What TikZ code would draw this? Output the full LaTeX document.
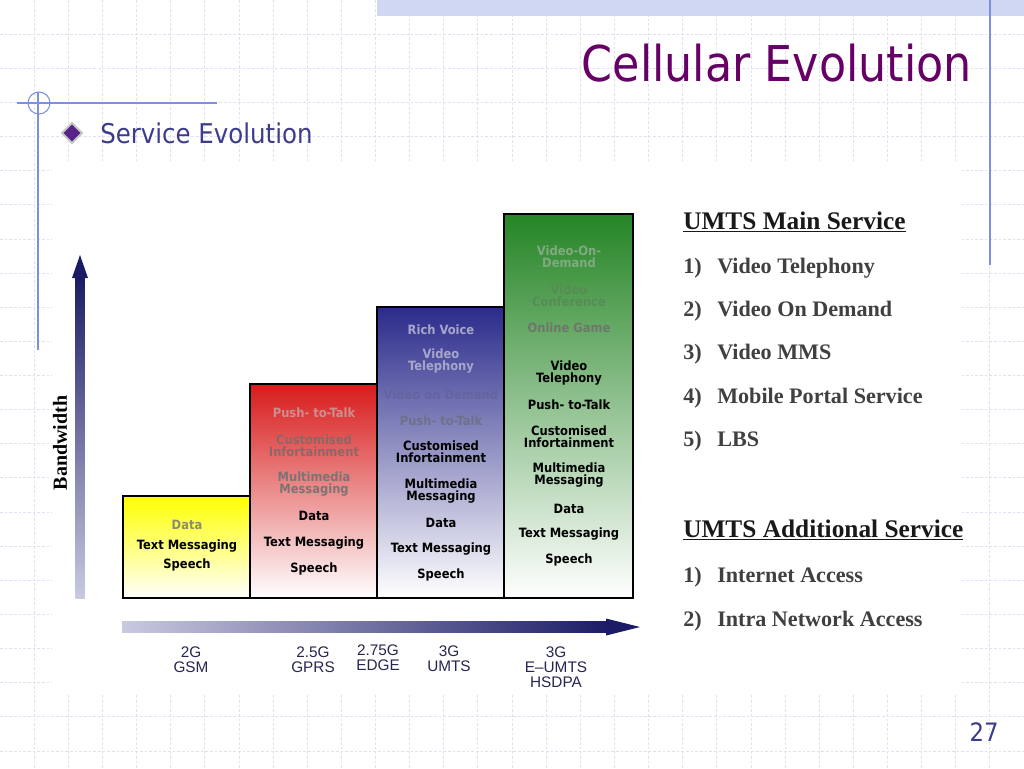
\documentclass[tikz,border=0pt]{standalone}
\usepackage{fontspec}
\usepackage{xcolor}
\newfontfamily\tahomaf{DejaVu Sans Condensed}
\newfontfamily\arialf{Liberation Sans}
\newfontfamily\timesf{Liberation Serif}

\definecolor{gridblue}{HTML}{DCE1F4}
\definecolor{frameblue}{HTML}{7E8FE0}
\definecolor{stripblue}{HTML}{D0D7F2}
\definecolor{titlepurple}{HTML}{660066}
\definecolor{subblue}{HTML}{3C3C8C}
\definecolor{axisdark}{HTML}{1C1C66}
\definecolor{axislight}{HTML}{C9C9E0}
\definecolor{navytext}{HTML}{262650}
\definecolor{barY}{HTML}{FFFF00}
\definecolor{barR}{HTML}{D81B1B}
\definecolor{barB}{HTML}{2B2B8C}
\definecolor{barG}{HTML}{258525}
\definecolor{dimY}{HTML}{8C8C70}
\definecolor{dimRa}{HTML}{CC8E8E}
\definecolor{dimRb}{HTML}{8E6666}
\definecolor{dimRc}{HTML}{7C7474}
\definecolor{dimBa}{HTML}{A6A6CC}
\definecolor{dimBb}{HTML}{6464A0}
\definecolor{dimBc}{HTML}{70708A}
\definecolor{dimGa}{HTML}{80AA80}
\definecolor{dimGb}{HTML}{568C56}
\definecolor{dimGc}{HTML}{6E766E}

\tikzset{
  gridline/.style={draw=gridblue, line width=0.5pt, dash pattern=on 2pt off 1.5pt},
  frameline/.style={draw=frameblue, line width=0.8pt},
  bar/.style={draw=black, line width=1.5pt},
  svc/.style={font=\tahomaf\bfseries\fontsize{9.6}{9.2}\selectfont, align=center, inner sep=0pt},
  gen/.style={font=\arialf\fontsize{11.5}{11.3}\selectfont, align=center, text=navytext, inner sep=0pt},
  listhead/.style={font=\timesf\bfseries\fontsize{19}{22}\selectfont, anchor=base west, text=black!90, inner sep=0pt},
  listitem/.style={font=\timesf\bfseries\fontsize{16.6}{20}\selectfont, anchor=base west, text=black!75, inner sep=0pt},
}

\begin{document}
\begin{tikzpicture}[x=0.75pt,y=-0.75pt]
\useasboundingbox (0,0) rectangle (1024,768);
\fill[white] (0,0) rectangle (1024,768);

% background grid
\foreach \i in {1,...,29}
  \draw[gridline] ({34.13*\i},0) -- ({34.13*\i},768);
\foreach \j in {1,...,22}
  \draw[gridline] (0,{34.13*\j}) -- (1024,{34.13*\j});
\fill[white] (52,163) rectangle (962,693);
\fill[stripblue] (377,0) rectangle (1024,16);

% frame lines
\draw[frameline] (990,0) -- (990,265);
\draw[frameline] (17,103) -- (217,103);
\draw[frameline] (38,92) -- (38,350);
\draw[frameline] (39,103) circle (11);

% title and bullet
\node[font=\tahomaf\fontsize{37}{40}\selectfont, text=titlepurple, anchor=base east, inner sep=0pt] (title) at (972,81) {Cellular Evolution};
\draw[draw=gray!45, line width=1.5pt, fill=subblue!60!violet] (72,123) -- (82,133) -- (72,143) -- (62,133) -- cycle;
\node[font=\tahomaf\fontsize{20.4}{24}\selectfont, text=subblue, anchor=base west, inner sep=0pt] (subtitle) at (100,143) {Service Evolution};

% axes
\shade[bottom color=axislight, top color=axisdark] (75.5,598) rectangle (84.5,276);
\fill[axisdark] (72,278) -- (80,255) -- (88,278) -- cycle;
\shade[left color=axislight, right color=axisdark] (122,621.5) rectangle (608,632.5);
\fill[axisdark] (606,618.5) -- (640,627) -- (606,635.5) -- cycle;
\node[font=\timesf\bfseries\fontsize{15}{16}\selectfont, rotate=90, inner sep=0pt] (bandwidth) at (60,443) {Bandwidth};

% bars
\draw[bar, top color=barY, bottom color=white] (123,496) rectangle (250,598);
\draw[bar, top color=barR, bottom color=white] (250,384) rectangle (377,598);
\draw[bar, top color=barB, bottom color=white] (377,307) rectangle (504,598);
\draw[bar, top color=barG, bottom color=white] (504,214) rectangle (633,598);

% services in each bar
\foreach \y/\t/\c in {525/Data/dimY, 546/Text Messaging/black, 565/Speech/black}
  \node[svc, text=\c] (gsm\y) at (187,\y) {\t};
\foreach \y/\t/\c in {413/Push- to-Talk/dimRa, 446/{Customised\\Infortainment}/dimRb,
    484/{Multimedia\\Messaging}/dimRc, 516/Data/black, 543/Text Messaging/black, 569/Speech/black}
  \node[svc, text=\c] (gprs\y) at (314,\y) {\t};
\foreach \y/\t/\c in {330/Rich Voice/dimBa, 361/{Video\\Telephony}/dimBa, 395/Video on Demand/dimBb,
    421/Push- to-Talk/dimBc, 452/{Customised\\Infortainment}/black, 491/{Multimedia\\Messaging}/black,
    523/Data/black, 549/Text Messaging/black, 575/Speech/black}
  \node[svc, text=\c] (umts\y) at (441,\y) {\t};
\foreach \y/\t/\c in {257/{Video-On-\\Demand}/dimGa, 296/{Video\\Conference}/dimGb, 328/Online Game/dimGc,
    373/{Video\\Telephony}/black, 405/Push- to-Talk/black, 437/{Customised\\Infortainment}/black,
    475/{Multimedia\\Messaging}/black, 509/Data/black, 534/Text Messaging/black, 560/Speech/black}
  \node[svc, text=\c] (hsdpa\y) at (569,\y) {\t};

% generations
\node[gen] (g2) at (191,660) {2G\\GSM};
\node[gen] (g25) at (313,660) {2.5G\\GPRS};
\node[gen] (g275) at (378,658) {2.75G\\EDGE};
\node[gen] (g3) at (449,659) {3G\\UMTS};
\node[gen] (g3h) at (556,667) {3G\\E–UMTS\\HSDPA};

% service lists
\node[listhead] (mainhead) at (683,229) {\underline{UMTS Main Service}};
\foreach \n/\y/\t in {1/273/Video Telephony, 2/316/Video On Demand, 3/359/Video MMS,
    4/403/Mobile Portal Service, 5/446/LBS}{
  \node[listitem] (mainnum\n) at (683,\y) {\n)};
  \node[listitem] (main\n) at (717,\y) {\t};
}
\node[listhead] (addhead) at (683,537) {\underline{UMTS Additional Service}};
\foreach \n/\y/\t in {1/582/Internet Access, 2/626/Intra Network Access}{
  \node[listitem] (addnum\n) at (683,\y) {\n)};
  \node[listitem] (add\n) at (717,\y) {\t};
}

% page number
\node[font=\tahomaf\fontsize{19}{22}\selectfont, text=subblue, inner sep=0pt] (pagenum) at (984,732) {27};
\end{tikzpicture}
\end{document}
